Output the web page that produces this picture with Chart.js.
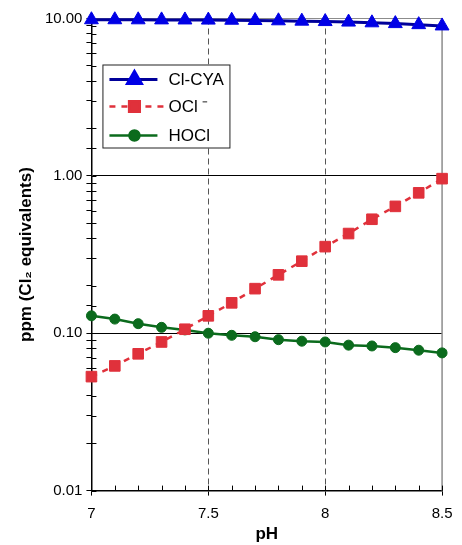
<!DOCTYPE html>
<html>
<head>
<meta charset="utf-8">
<script src="https://cdn.jsdelivr.net/npm/chart.js@4.4.0/dist/chart.umd.min.js"></script>
<style>
  body { margin: 0; background: #fff; }
  #wrap { width: 462px; height: 545px; }
</style>
</head>
<body>
<div id="wrap"><canvas id="ph-chart"></canvas></div>
<script>
var phValues = [7.0, 7.1, 7.2, 7.3, 7.4, 7.5, 7.6, 7.7, 7.8, 7.9, 8.0, 8.1, 8.2, 8.3, 8.4, 8.5];
var clCya = [9.82, 9.82, 9.81, 9.80, 9.79, 9.77, 9.75, 9.71, 9.67, 9.62, 9.56, 9.49, 9.39, 9.28, 9.14, 8.97];
var ocl = [0.053, 0.062, 0.074, 0.088, 0.106, 0.129, 0.156, 0.192, 0.235, 0.287, 0.355, 0.43, 0.53, 0.64, 0.78, 0.96];
var hocl = [0.129, 0.123, 0.115, 0.109, 0.105, 0.100, 0.097, 0.095, 0.091, 0.089, 0.088, 0.084, 0.083, 0.081, 0.078, 0.075];
var seriesNames = ['Cl-CYA', 'OCl \u207B', 'HOCl'];
var yLabelTicks = [0.01, 0.1, 1, 10];
var xLabelTicks = [7, 7.5, 8, 8.5];
var dashedX = [7.5, 8];

var FONT = "'Liberation Sans', Arial, sans-serif";
var CLEAR = 'rgba(0,0,0,0)';

function toPoints(values) {
  return phValues.map(function (x, i) { return { x: x, y: values[i] }; });
}

function isMajorY(v) {
  return yLabelTicks.some(function (t) { return Math.abs(v - t) / t < 1e-6; });
}

function roundPh(v) {
  return Math.round(v * 10) / 10;
}

// inner tick marks, right frame line and the boxed legend
var frameAndLegend = {
  id: 'frameAndLegend',
  beforeDatasetsDraw: function (chart) {
    var ctx = chart.ctx, a = chart.chartArea;
    var xs = chart.scales.x, ys = chart.scales.y;
    ctx.save();
    ctx.strokeStyle = '#8c8c8c';
    ctx.lineWidth = 1.5;
    ctx.beginPath();
    ctx.moveTo(a.right, a.top);
    ctx.lineTo(a.right, a.bottom);
    ctx.stroke();

    ctx.strokeStyle = '#000';
    ctx.lineWidth = 1;
    ctx.beginPath();
    xs.ticks.forEach(function (t) {
      var px = Math.round(xs.getPixelForValue(t.value)) + 0.5;
      ctx.moveTo(px, a.bottom);
      ctx.lineTo(px, a.bottom - 5);
    });
    ys.ticks.forEach(function (t) {
      var py = Math.round(ys.getPixelForValue(t.value)) + 0.5;
      ctx.moveTo(a.left, py);
      ctx.lineTo(a.left + 5, py);
    });
    ctx.stroke();
    ctx.restore();
  },
  afterDatasetsDraw: function (chart) {
    var ctx = chart.ctx, a = chart.chartArea;
    var bx = a.left + 11, by = a.top + 46, bw = 127, bh = 83;
    var rows = [15, 42, 71];
    ctx.save();
    ctx.fillStyle = '#fff';
    ctx.fillRect(bx, by, bw, bh);
    ctx.strokeStyle = '#222';
    ctx.lineWidth = 1;
    ctx.strokeRect(bx + 0.5, by + 0.5, bw, bh);

    chart.data.datasets.forEach(function (ds, i) {
      var ry = by + rows[i];
      ctx.save();
      ctx.strokeStyle = ds.borderColor;
      ctx.lineWidth = ds.borderWidth;
      ctx.setLineDash(ds.borderDash || []);
      ctx.beginPath();
      ctx.moveTo(bx + 7, ry);
      ctx.lineTo(bx + (ds.borderDash ? 61 : 55), ry);
      ctx.stroke();
      ctx.setLineDash([]);
      ctx.fillStyle = ds.pointBackgroundColor;
      ctx.strokeStyle = ds.pointBorderColor;
      Chart.helpers.drawPoint(ctx, {
        pointStyle: ds.pointStyle,
        radius: ds.pointRadius,
        rotation: 0,
        borderWidth: ds.pointBorderWidth
      }, bx + 32, ry);
      ctx.restore();

      ctx.fillStyle = '#000';
      ctx.font = '17px ' + FONT;
      ctx.textBaseline = 'middle';
      ctx.textAlign = 'left';
      ctx.fillText(ds.label, bx + 66, ry + 1);
    });
    ctx.restore();
  }
};

var ctx = document.getElementById('ph-chart');
var chart = new Chart(ctx, {
  type: 'line',
  data: {
    datasets: [{
      label: seriesNames[0],
      data: toPoints(clCya),
      borderColor: '#000099',
      borderWidth: 3,
      pointStyle: 'triangle',
      pointRadius: 8,
      pointBackgroundColor: '#0000e6',
      pointBorderColor: '#0000e6',
      pointBorderWidth: 1,
      clip: false
    }, {
      label: seriesNames[1],
      data: toPoints(ocl),
      borderColor: '#e0313b',
      borderWidth: 2.5,
      borderDash: [6, 6],
      pointStyle: 'rect',
      pointRadius: 7.5,
      pointBackgroundColor: '#e0313b',
      pointBorderColor: '#e0313b',
      pointBorderWidth: 1,
      clip: false
    }, {
      label: seriesNames[2],
      data: toPoints(hocl),
      borderColor: '#0b6b1d',
      borderWidth: 2.5,
      pointStyle: 'circle',
      pointRadius: 5,
      pointBackgroundColor: '#0b6b1d',
      pointBorderColor: '#0b6b1d',
      pointBorderWidth: 1,
      clip: false
    }]
  },
  options: {
    responsive: true,
    maintainAspectRatio: false,
    animation: false,
    layout: { padding: { top: 18.5, right: 15, bottom: 0, left: 16 } },
    plugins: {
      legend: { display: false },
      tooltip: { enabled: false }
    },
    scales: {
      x: {
        type: 'linear',
        min: 7,
        max: 8.5,
        ticks: {
          stepSize: 0.1,
          autoSkip: false,
          maxRotation: 0,
          padding: 9.5,
          color: '#000',
          font: { family: FONT, size: 15 },
          callback: function (v) {
            var r = roundPh(v);
            return xLabelTicks.indexOf(r) >= 0 ? String(r) : '';
          }
        },
        grid: {
          color: function (c) {
            if (!c.tick) return CLEAR;
            return dashedX.indexOf(roundPh(c.tick.value)) >= 0 ? '#555' : CLEAR;
          },
          lineWidth: 1,
          tickLength: 5,
          tickColor: function (c) {
            if (!c.tick) return CLEAR;
            return xLabelTicks.indexOf(roundPh(c.tick.value)) >= 0 ? '#000' : CLEAR;
          }
        },
        border: { color: '#000', width: 1.5, dash: [6, 4] },
        title: {
          display: true,
          text: 'pH',
          color: '#000',
          font: { family: FONT, size: 17, weight: 'bold' },
          padding: { top: -8, bottom: 0 }
        }
      },
      y: {
        type: 'logarithmic',
        min: 0.01,
        max: 10,
        ticks: {
          autoSkip: false,
          padding: 4,
          color: '#000',
          font: { family: FONT, size: 15 },
          callback: function (v) {
            return isMajorY(v) ? Number(v).toFixed(2) : '';
          }
        },
        grid: {
          color: function (c) {
            if (!c.tick || !isMajorY(c.tick.value)) return CLEAR;
            return Math.abs(c.tick.value - 10) < 1e-6 ? '#8c8c8c' : '#000';
          },
          lineWidth: 1,
          tickLength: 5,
          tickColor: '#000'
        },
        border: { color: '#000', width: 1.5 },
        title: {
          display: true,
          text: 'ppm (Cl\u2082 equivalents)',
          color: '#000',
          font: { family: FONT, size: 17, weight: 'bold' },
          padding: { top: 0, bottom: 4.5 }
        }
      }
    }
  },
  plugins: [frameAndLegend]
});
</script>
</body>
</html>
